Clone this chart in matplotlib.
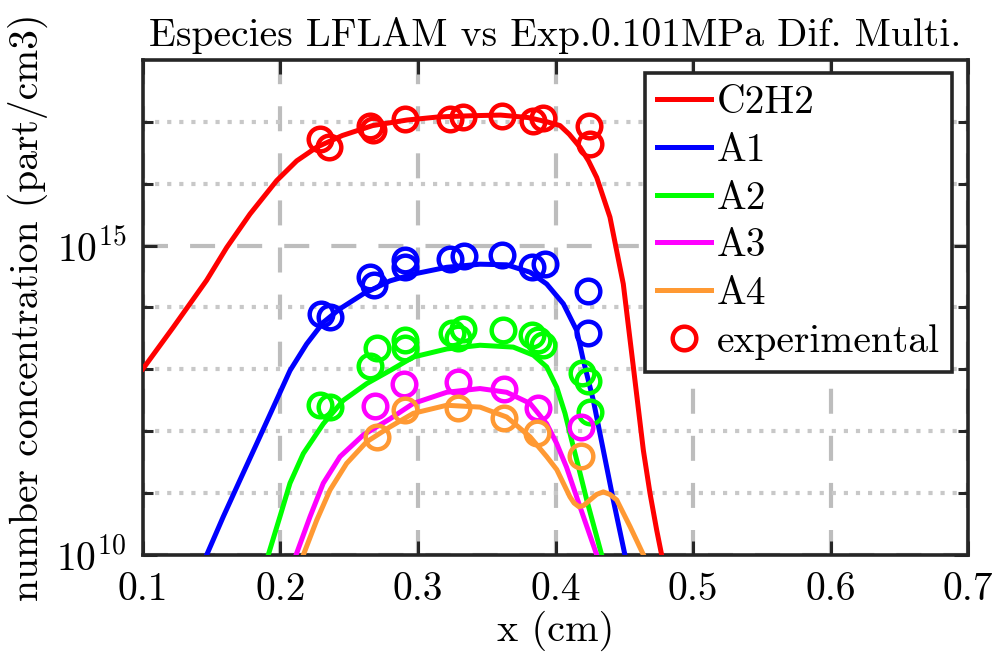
import numpy as np
import matplotlib
matplotlib.use("Agg")
import matplotlib.pyplot as plt

plt.rcParams['font.family'] = ['cmr10', 'DejaVu Serif']
plt.rcParams['mathtext.fontset'] = 'cm'
plt.rcParams['axes.unicode_minus'] = False
plt.rcParams['axes.formatter.use_mathtext'] = True

# simulated profiles (x in cm, log10 of concentration)
x_c2h2 = [0.100, 0.122, 0.1463, 0.1609, 0.1778, 0.1972, 0.2118, 0.2263, 0.245, 0.267,
          0.292, 0.315, 0.340, 0.360, 0.380, 0.394, 0.4033, 0.410, 0.4178, 0.424, 0.430,
          0.4396, 0.4493, 0.4566, 0.4639, 0.4687, 0.4736, 0.4772]
y_c2h2 = [13.01, 13.68, 14.44, 14.97, 15.51, 16.05, 16.37, 16.59, 16.78, 16.94,
          17.03, 17.08, 17.10, 17.11, 17.07, 17.00, 16.94, 16.80, 16.59, 16.37, 16.10,
          15.46, 14.38, 13.04, 11.69, 11.00, 10.40, 10.00]

x_a1 = [0.1463, 0.1584, 0.1705, 0.1827, 0.1948, 0.2069, 0.219, 0.2311, 0.2433, 0.2602,
        0.2796, 0.2966, 0.3209, 0.3451, 0.3645, 0.3815, 0.3936, 0.4057, 0.4154, 0.4202,
        0.4275, 0.4348, 0.442, 0.4505]
y_a1 = [10.00, 10.62, 11.21, 11.80, 12.39, 12.98, 13.41, 13.76, 13.98, 14.22,
        14.43, 14.54, 14.65, 14.70, 14.69, 14.57, 14.38, 14.06, 13.63, 13.15,
        12.50, 11.69, 10.89, 10.00]

x_a2 = [0.1911, 0.1996, 0.2069, 0.2166, 0.2311, 0.2457, 0.2627, 0.2796, 0.2966, 0.3209,
        0.3451, 0.3693, 0.3839, 0.3936, 0.4009, 0.4069, 0.4118, 0.4172, 0.4227, 0.4336]
y_a2 = [10.00, 10.62, 11.16, 11.64, 12.12, 12.50, 12.77, 12.98, 13.20, 13.33,
        13.39, 13.36, 13.23, 13.04, 12.71, 12.29, 11.85, 11.38, 10.89, 10.00]

x_a3 = [0.2113, 0.2215, 0.2311, 0.2433, 0.2602, 0.2796, 0.2966, 0.3209, 0.3451, 0.3645,
        0.3815, 0.3936, 0.4009, 0.408, 0.4178, 0.4300]
y_a3 = [10.00, 10.62, 11.16, 11.59, 11.94, 12.20, 12.45, 12.63, 12.69, 12.63,
        12.45, 12.12, 11.80, 11.42, 10.78, 10.00]

x_a4 = [0.2166, 0.2263, 0.236, 0.2481, 0.2627, 0.2796, 0.2966, 0.3209, 0.3451, 0.3645,
        0.3815, 0.3936, 0.4009, 0.4105, 0.4135, 0.417, 0.4205, 0.4251, 0.430, 0.4348,
        0.4395, 0.4445, 0.4542, 0.464]
y_a4 = [10.00, 10.56, 11.05, 11.48, 11.83, 12.07, 12.29, 12.42, 12.39, 12.23,
        11.91, 11.59, 11.38, 10.94, 10.84, 10.78, 10.80, 10.89, 10.98, 11.02,
        10.98, 10.89, 10.46, 10.00]

# experimental points (x in cm, log10 of concentration)
ex_c2h2 = [0.2287, 0.2355, 0.2651, 0.2675, 0.2905, 0.3233, 0.3329, 0.3609, 0.3834, 0.3911, 0.4246, 0.4251]
ey_c2h2 = [16.72, 16.59, 16.94, 16.87, 17.04, 17.04, 17.08, 17.10, 17.02, 17.07, 16.94, 16.64]

ex_a1 = [0.2295, 0.236, 0.2651, 0.268, 0.2905, 0.2905, 0.3233, 0.3335, 0.361, 0.383, 0.392, 0.4236, 0.4236]
ey_a1 = [13.89, 13.85, 14.50, 14.37, 14.77, 14.66, 14.79, 14.84, 14.85, 14.65, 14.71, 14.27, 13.58]

ex_a2 = [0.2287, 0.236, 0.2651, 0.2702, 0.2905, 0.2905, 0.3247, 0.3327, 0.329, 0.3618,
         0.383, 0.387, 0.391, 0.4192, 0.4236, 0.4251]
ey_a2 = [12.42, 12.39, 13.06, 13.34, 13.47, 13.34, 13.58, 13.66, 13.50, 13.63,
         13.55, 13.47, 13.39, 12.94, 12.82, 12.31]

ex_a3 = [0.2687, 0.2898, 0.3289, 0.3625, 0.3873, 0.4185]
ey_a3 = [12.40, 12.77, 12.79, 12.69, 12.37, 12.07]

ex_a4 = [0.2704, 0.2905, 0.3293, 0.3625, 0.3865, 0.4185]
ey_a4 = [11.90, 12.34, 12.37, 12.22, 11.97, 11.60]

species = ["C2H2", "A1", "A2", "A3", "A4"]
colors = ["#ff0000", "#0000ff", "#00ff00", "#ff00ff", "#ff9933"]
sim = [(x_c2h2, y_c2h2), (x_a1, y_a1), (x_a2, y_a2), (x_a3, y_a3), (x_a4, y_a4)]
exp = [(ex_c2h2, ey_c2h2), (ex_a1, ey_a1), (ex_a2, ey_a2), (ex_a3, ey_a3), (ex_a4, ey_a4)]

fig = plt.figure(figsize=(9.95, 6.63), dpi=100)
ax = fig.add_axes([0.1437, 0.1629, 0.8292, 0.7466])

for name, c, (xs, ys) in zip(species, colors, sim):
    ax.plot(xs, 10.0 ** np.array(ys), color=c, lw=3.6, label=name, zorder=3,
            solid_joinstyle='round')

for i, (c, (xs, ys)) in enumerate(zip(colors, exp)):
    ax.plot(xs, 10.0 ** np.array(ys), 'o', mfc='none', mec=c, ms=17, mew=3.2,
            label="experimental" if i == 0 else "_nolegend_", zorder=4)

ax.set_yscale('log')
ax.set_xlim(0.1, 0.7)
ax.set_ylim(1e10, 1e18)
ax.set_xticks([0.1, 0.2, 0.3, 0.4, 0.5, 0.6, 0.7])
ax.set_xticklabels(["0.1", "0.2", "0.3", "0.4", "0.5", "0.6", "0.7"])
ax.set_yticks([1e10, 1e15])
ax.set_yticklabels([r"$10^{10}$", r"$10^{15}$"])
ax.set_yticks([1e11, 1e12, 1e13, 1e14, 1e16, 1e17], minor=True)
ax.yaxis.set_minor_formatter(matplotlib.ticker.NullFormatter())
ax.xaxis.set_minor_locator(matplotlib.ticker.NullLocator())

ax.grid(True, which='major', color='#bdbdbd', lw=3, ls=(0, (6, 5.3)), zorder=0)
ax.grid(True, which='minor', axis='y', color='#c8c8c8', lw=3, ls=(0, (1, 1.9)), zorder=0)

ax.tick_params(which='both', direction='in', top=True, right=True, width=2.2,
               labelsize=28.5, colors='#262626', labelcolor='black')
ax.tick_params(which='major', length=10, pad=12)
ax.tick_params(which='minor', length=7)
for s in ax.spines.values():
    s.set_linewidth(2.6)
    s.set_color('#262626')

ax.set_title("Especies LFLAM vs Exp.0.101MPa Dif. Multi.", fontsize=28.5, pad=10)
ax.set_xlabel("x (cm)", fontsize=29, labelpad=2)
ax.set_ylabel("number concentration (part/cm3)", fontsize=28.5, labelpad=6)

leg = ax.legend(loc='upper right', bbox_to_anchor=(0.980, 0.973), borderaxespad=0,
                fontsize=28.5, fancybox=False, framealpha=1, edgecolor='#262626',
                handlelength=1.35, handletextpad=0.15, labelspacing=0.3,
                borderpad=0.3)
leg.get_frame().set_linewidth(2.6)

fig.savefig("out.png", dpi=100)
